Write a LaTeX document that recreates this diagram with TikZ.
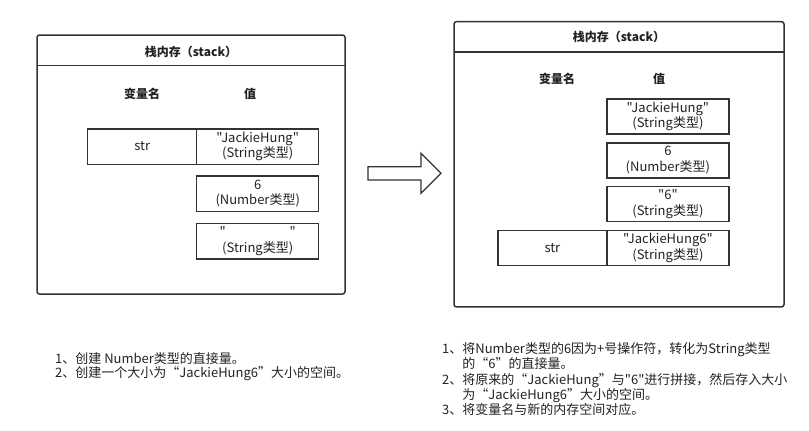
\documentclass[tikz,border=0pt]{standalone}
\usepackage{fontspec,xcolor}
\setmainfont{Noto Sans CJK SC}[Ligatures=TeXOff]
\usetikzlibrary{positioning}
\definecolor{linegray}{HTML}{333333}
\definecolor{textgray}{HTML}{222222}
\newcommand{\valType}[2]{#1\\(#2类型)}
\tikzset{
  stackframe/.style={draw=linegray,line width=1.5pt,rounded corners=2.5pt,inner sep=0pt,outer sep=0pt},
  headline/.style={draw=linegray,line width=1.5pt},
  cellbox/.style={draw=linegray,line width=1.5pt,text=textgray,minimum width=122pt,minimum height=35.5pt,
    inner sep=0pt,outer sep=0pt,align=center,font=\fontsize{13}{15.5}\selectfont},
  namebox/.style={cellbox,minimum width=109pt},
  headtext/.style={text=textgray,inner sep=0pt,font=\fontsize{12}{14}\selectfont\bfseries},
  notetext/.style={text=textgray,align=left,anchor=west,inner sep=0pt}
}

\begin{document}
\begin{tikzpicture}[x=1pt,y=-1pt]
\useasboundingbox (0,0) rectangle (809,431);

\node[stackframe,minimum width=308pt,minimum height=259pt] (lstack) at (191,164.5) {};
\draw[headline] ([yshift=-30.7pt]lstack.north west) -- ([yshift=-30.7pt]lstack.north east);
\node[headtext] (ltitle) at (191,51.5) {栈内存（stack）};
\node[headtext] (lvarname) at (142,94) {变量名};
\node[headtext] (lvalue) at (250,94) {值};
\node[namebox] (lstr) at (142.2,146.5) {str};
\node[cellbox,right=0pt of lstr] (lval1) {\valType{"JackieHung"}{String}};
\node[cellbox,below=11.8pt of lval1] (lval2) {\valType{6}{Number}};
\node[cellbox,below=11.8pt of lval2] (lval3) {\valType{"\hspace{64pt}"}{String}};

\draw[linegray,line width=1.3pt,line join=miter] (368,166.7) -- (421,166.7) -- (421,153.3) -- (441,173.3)
  -- (421,193.3) -- (421,180) -- (368,180) -- cycle;

\node[stackframe,minimum width=330pt,minimum height=285.3pt] (rstack) at (619,164.3) {};
\draw[headline] ([yshift=-30.3pt]rstack.north west) -- ([yshift=-30.3pt]rstack.north east);
\node[headtext] (rtitle) at (619,37) {栈内存（stack）};
\node[headtext] (rvarname) at (557,79) {变量名};
\node[headtext] (rvalue) at (659,79) {值};
\node[cellbox,minimum height=35pt] (rval1) at (667.9,116.5) {\valType{"JackieHung"}{String}};
\node[cellbox,minimum height=35pt,below=8.8pt of rval1] (rval2) {\valType{6}{Number}};
\node[cellbox,minimum height=35pt,below=8.8pt of rval2] (rval3) {\valType{"6"}{String}};
\node[cellbox,minimum height=35pt,below=8.8pt of rval3] (rval4) {\valType{"JackieHung6"}{String}};
\node[namebox,minimum height=35pt,left=0pt of rval4] (rstr) {str};

\node[notetext,font=\fontsize{13}{14}\selectfont] (lnote) at (55,366.2) {1、创建 Number类型的直接量。\\
2、创建一个大小为“JackieHung6”大小的空间。};
\node[notetext,font=\fontsize{13}{15.4}\selectfont] (rnote) at (442,379.2) {1、将Number类型的6因为+号操作符，转化为String类型\\
\hphantom{1、}的“6”的直接量。\\
2、将原来的“JackieHung”与"6"进行拼接，然后存入大小\\
\hphantom{1、}为“JackieHung6”大小的空间。\\
3、将变量名与新的内存空间对应。};
\end{tikzpicture}
\end{document}
